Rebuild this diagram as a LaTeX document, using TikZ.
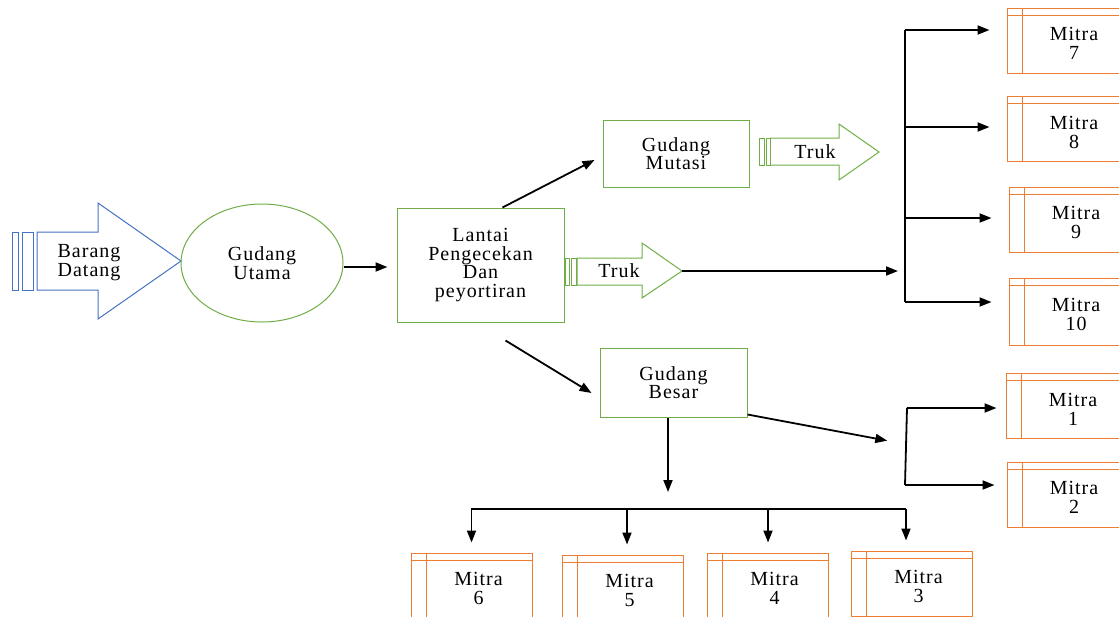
\documentclass[tikz,border=0pt]{standalone}
\usepackage{fontspec}
\setmainfont{Liberation Serif}[LetterSpace=5]
\usetikzlibrary{arrows.meta,shapes.geometric,positioning}
\definecolor{biru}{HTML}{4472C4}
\definecolor{hijau}{HTML}{70AD47}
\definecolor{oranye}{HTML}{ED7D31}

\newcommand{\mitrateks}[1]{\hspace*{14pt}\raisebox{-11pt}[0pt][0pt]{\begin{tabular}{@{}c@{}}Mitra\\#1\end{tabular}}}

\tikzset{
  teks/.style={font=\fontsize{20}{18.5}\selectfont, align=center},
  gudang/.style={teks, draw=hijau, line width=1pt, rectangle},
  mitra/.style={font=\fontsize{20}{19}\selectfont, draw=oranye, line width=1pt,
    minimum width=120pt, minimum height=65pt, inner sep=0pt,
    path picture={
      \draw[oranye,line width=1pt] ([xshift=15pt]path picture bounding box.north west) -- ([xshift=15pt]path picture bounding box.south west);
      \draw[oranye,line width=1pt] ([yshift=-7pt]path picture bounding box.north west) -- ([yshift=-7pt]path picture bounding box.north east);
    }},
  panah/.style={-{Triangle[length=12pt,width=9pt]}, line width=1.8pt},
  garis/.style={line width=1.8pt},
}

\begin{document}
\begin{tikzpicture}[x=1pt,y=-1pt]
  \useasboundingbox (0,0) rectangle (1119,616);

  % barang datang
  \draw[biru,line width=1pt] (12,232) rectangle (18,290);
  \draw[biru,line width=1pt] (22,232) rectangle (33,290);
  \draw[biru,line width=1pt] (37,232) -- (98,232) -- (98,203) -- (181,261) -- (98,319) -- (98,290) -- (37,290) -- cycle;
  \node[teks] (barang) at (89,262.5) {Barang\\Datang};

  % gudang
  \node[teks,ellipse,draw=hijau,line width=1pt,minimum width=162pt,minimum height=118pt] (utama) at (262,263) {Gudang\\Utama};
  \node[gudang,minimum width=167pt,minimum height=114pt] (lantai) at (480.5,265) {Lantai\\Pengecekan\\Dan\\peyortiran};
  \node[gudang,minimum width=146pt,minimum height=67pt] (mutasi) at (676,153.5) {Gudang\\Mutasi};
  \node[gudang,minimum width=147pt,minimum height=69pt] (besar) at (673.5,382.5) {Gudang\\Besar};

  % truk
  \draw[hijau,line width=1pt] (759,138) rectangle (764,165);
  \draw[hijau,line width=1pt] (766,138) rectangle (770,165);
  \draw[hijau,line width=1pt] (770,138) -- (839,138) -- (839,124) -- (879,152) -- (839,180) -- (839,165) -- (770,165);
  \node[teks] (truk1) at (815,152) {Truk};

  \draw[hijau,line width=1pt] (565,258) rectangle (569,285);
  \draw[hijau,line width=1pt] (571,258) rectangle (576,285);
  \draw[hijau,line width=1pt] (577,258) -- (642,258) -- (642,243) -- (682,271) -- (642,298) -- (642,285) -- (577,285) -- cycle;
  \node[teks] (truk2) at (619,271) {Truk};
  \coordinate (truk2ujung) at (682,271);

  % mitra
  \node[mitra] (m7) at (1067,40.5) {\mitrateks{7}};
  \node[mitra] (m8) at (1067,129) {\mitrateks{8}};
  \node[mitra] (m9) at (1069,219.5) {\mitrateks{9}};
  \node[mitra,minimum height=67pt] (m10) at (1069,311.5) {\mitrateks{10}};
  \node[mitra] (m1) at (1066,406) {\mitrateks{1}};
  \node[mitra] (m2) at (1067,494.5) {\mitrateks{2}};
  \node[mitra,minimum width=121pt] (m6) at (471.5,585.5) {\mitrateks{6}};
  \node[mitra,minimum width=121pt] (m5) at (622.5,587.5) {\mitrateks{5}};
  \node[mitra,minimum width=121pt] (m4) at (767.5,585.5) {\mitrateks{4}};
  \node[mitra,minimum width=121pt] (m3) at (911.5,583.5) {\mitrateks{3}};

  % alur utama
  \draw[panah,shorten >=9pt] ([yshift=-4pt]utama.east) -- ([yshift=-2pt]lantai.west);
  \draw[panah] ([xshift=22pt]lantai.north) -- ([xshift=-8pt,yshift=-6.5pt]mutasi.west);
  \draw[panah] ([xshift=25pt,yshift=-18pt]lantai.south) -- ([xshift=-8pt,yshift=-10.5pt]besar.west);

  % cabang atas
  \coordinate (c7) at (905,30);
  \coordinate (c8) at (905,127);
  \coordinate (c9) at (905,218);
  \coordinate (c10) at (905,302);
  \draw[garis] (c7) -- (c10);
  \draw[panah,shorten >=7pt] (truk2ujung) -- (truk2ujung -| c7);
  \foreach \c/\m in {c7/m7,c8/m8,c9/m9,c10/m10}
    \draw[panah,shorten >=17pt] (\c) -- (\c -| \m.west);

  % cabang kanan bawah
  \coordinate (c1) at (907,408);
  \coordinate (c2) at (905,485);
  \coordinate (c12) at (905,444);
  \draw[garis] (c1) -- (c2);
  \draw[panah,shorten >=18pt] ([yshift=3pt]besar.south east) -- (c12);
  \draw[panah,shorten >=9pt] (c1) -- (c1 -| m1.west);
  \draw[panah,shorten >=12pt] (c2) -- (c2 -| m2.west);

  % cabang bawah
  \coordinate (b6) at (471,509);
  \coordinate (b3) at (906,509);
  \coordinate (turun) at ([xshift=-5.5pt]besar.south);
  \draw[panah,shorten >=17pt] (turun) -- (turun |- b6);
  \draw[garis] (b6) -- (b3);
  \foreach \m/\dx in {m6/0,m5/4.5,m4/0.5,m3/-5.5}{
    \coordinate (atas) at ([xshift=\dx pt]\m.north);
    \draw[panah,shorten >=10pt] (atas |- b6) -- (atas);
  }
\end{tikzpicture}
\end{document}
